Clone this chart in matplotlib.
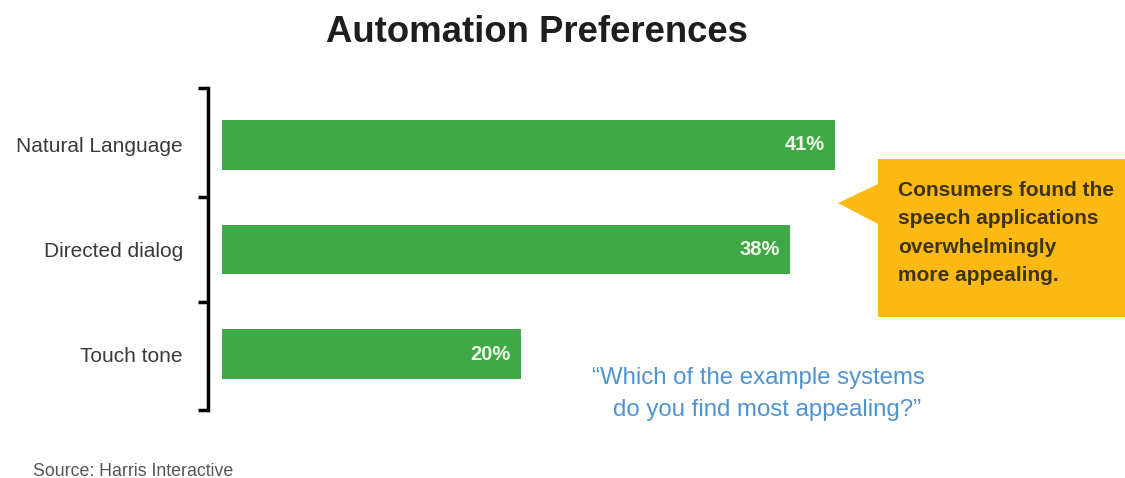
import matplotlib
matplotlib.use("Agg")
import matplotlib.pyplot as plt
import matplotlib.patches as patches

categories = ["Natural Language", "Directed dialog", "Touch tone"]
values = [41, 38, 20]
value_labels = ["41%", "38%", "20%"]
title = "Automation Preferences"
callout_lines = "Consumers found the\nspeech applications\noverwhelmingly\nmore appealing."
question_lines = ["\u201cWhich of the example systems", "do you find most appealing?\u201d"]
source = "Source: Harris Interactive"

plt.rcParams['font.family'] = ['Liberation Sans', 'DejaVu Sans']

W, H = 1125, 478
fig = plt.figure(figsize=(W / 100, H / 100), dpi=100)
fig.patch.set_facecolor("white")

# main bar axes, placed in pixel terms
ax = fig.add_axes([208 / W, 1 - 410 / H, (850 - 208) / W, 322 / H])
ypos = list(range(len(categories)))
ax.barh(ypos, values, height=0.476, color="#3fa947", edgecolor="none")
for y, v, lab in zip(ypos, values, value_labels):
    ax.text(v - 0.7, y, lab, ha="right", va="center", fontsize=14.5,
            fontweight="bold", color="#eef7e6")

ax.set_xlim(-0.936, 42.0)
ax.set_ylim(2.53, -0.54)
ax.set_yticks(ypos)
ax.set_yticklabels(categories, fontsize=15, color="#3a3a3a")
ax.tick_params(axis="y", which="major", length=0, pad=18)
ax.set_yticks([-0.54, 0.5, 1.5, 2.53], minor=True)
ax.tick_params(axis="y", which="minor", length=7, width=2.5, direction="out", color="black")
ax.set_xticks([])
for s in ["top", "right", "bottom"]:
    ax.spines[s].set_visible(False)
ax.spines["left"].set_linewidth(2.5)
ax.spines["left"].set_color("black")
ax.set_facecolor("none")

# overlay in pixel coordinates for annotations
ov = fig.add_axes([0, 0, 1, 1], zorder=-1)
ov.set_xlim(0, W)
ov.set_ylim(H, 0)
ov.axis("off")

ov.text(537, 32, title, ha="center", va="center", fontsize=26.3, fontweight="bold", color="#1e1e1e")

callout = patches.Polygon([(878, 159), (1125, 159), (1125, 317), (878, 317),
                           (878, 224), (838, 203), (878, 184)],
                          closed=True, facecolor="#fdb913", edgecolor="none")
ov.add_patch(callout)
ov.text(898, 233, callout_lines, ha="left", va="center", fontsize=15,
        fontweight="bold", color="#3d3318", linespacing=1.62)

ov.text(592, 378, question_lines[0], ha="left", va="center", fontsize=17.3, color="#4f93cf")
ov.text(613, 410, question_lines[1], ha="left", va="center", fontsize=17.3, color="#4f93cf")

ov.text(33, 471, source, ha="left", va="center", fontsize=12.8, color="#555555")

fig.savefig("out.png", dpi=100, facecolor="white")
